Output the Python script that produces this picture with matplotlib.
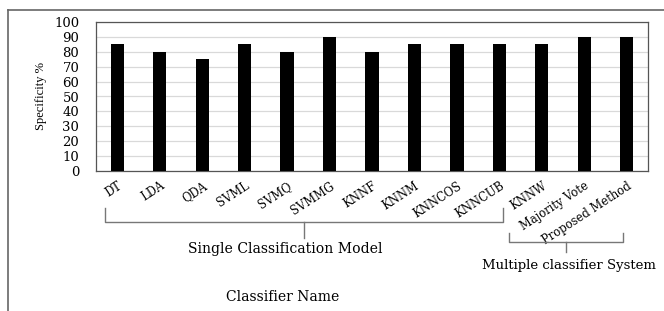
import matplotlib
matplotlib.use("Agg")
import matplotlib.pyplot as plt
from matplotlib.lines import Line2D

# data
classifiers = ['DT', 'LDA', 'QDA', 'SVML', 'SVMQ', 'SVMMG', 'KNNF', 'KNNM',
               'KNNCOS', 'KNNCUB', 'KNNW', 'Majority Vote', 'Proposed Method']
specificity = [85, 80, 75, 85, 80, 90, 80, 85, 85, 85, 85, 90, 90]
y_ticks = list(range(0, 101, 10))

W, H = 664, 311
plt.rcParams['font.family'] = ['DejaVu Serif']

fig = plt.figure(figsize=(W / 100, H / 100), dpi=100)
fig.patch.set_facecolor('white')

def px(x, y):
    # pixel (from top-left) -> figure fraction
    return x / W, 1 - y / H

# plot area in pixels
left, right, top, bottom = 96, 648, 22, 171
ax = fig.add_axes([left / W, 1 - bottom / H, (right - left) / W, (bottom - top) / H])

pos = list(range(len(classifiers)))
ax.bar(pos, specificity, width=0.31, color='black', zorder=3)
ax.set_xlim(-0.5, len(classifiers) - 0.5)
ax.set_ylim(0, 100)
ax.set_yticks(y_ticks)
ax.set_yticklabels([str(v) for v in y_ticks], fontsize=9.5)
ax.set_xticks(pos)
ax.set_xticklabels(classifiers, rotation=33, ha='right', va='top',
                   rotation_mode='anchor', fontsize=8.3)
ax.tick_params(length=0, pad=6)
ax.tick_params(axis='y', pad=12)
ax.yaxis.grid(True, color='#d9d9d9', linewidth=0.9, zorder=0)
for s in ax.spines.values():
    s.set_color('#555555')
    s.set_linewidth(0.9)

ax.set_ylabel('Specificity %', fontsize=9, family='Liberation Serif', labelpad=5)

def fline(xs, ys, color='#777777', lw=1.0):
    fx = [x / W for x in xs]
    fy = [1 - y / H for y in ys]
    fig.add_artist(Line2D(fx, fy, color=color, linewidth=lw, transform=fig.transFigure))

# outer frame of the original chart
fline([8, 664], [10, 10], color='#666666', lw=1.2)
fline([8, 8], [10, 311], color='#666666', lw=1.2)

# bracket: single classification model
fline([105, 105, 503, 503], [208, 222, 222, 208])
fline([304, 304], [222, 238])
fig.text(*px(188, 249), 'Single Classification Model', ha='left', va='center', fontsize=10.1)

# bracket: multiple classifier system
fline([509, 509, 623, 623], [233, 242, 242, 233])
fline([566, 566], [242, 252])
fig.text(*px(482, 265), 'Multiple classifier System', ha='left', va='center', fontsize=9.5)

fig.text(*px(226, 297), 'Classifier Name', ha='left', va='center', fontsize=10)

fig.savefig('out.png', dpi=100)
